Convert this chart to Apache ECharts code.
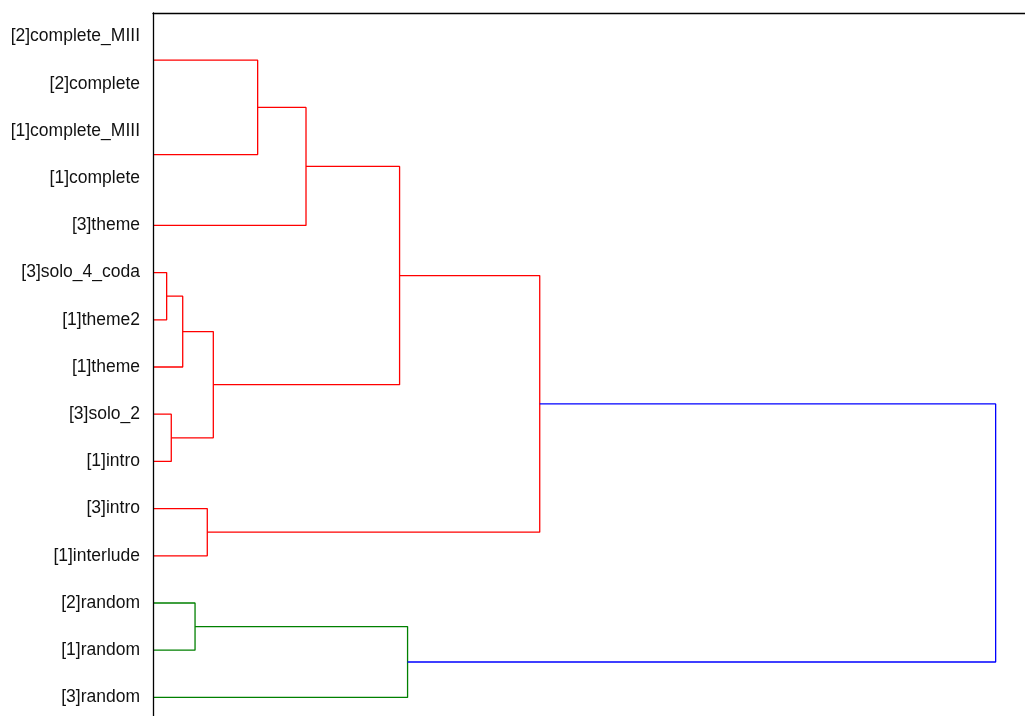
<!DOCTYPE html>
<html>
<head>
<meta charset="utf-8">
<title>dendrogram</title>
<script src="https://cdn.jsdelivr.net/npm/echarts@6/dist/echarts.min.js"></script>
<style>
  html, body { margin: 0; padding: 0; background: #fff; }
  #main { width: 1025px; height: 716px; }
</style>
</head>
<body>
<div id="main"></div>
<script>
// leaves, top to bottom
const leaves = [
  '[2]complete_MIII', '[2]complete', '[1]complete_MIII', '[1]complete', '[3]theme',
  '[3]solo_4_coda', '[1]theme2', '[1]theme', '[3]solo_2', '[1]intro',
  '[3]intro', '[1]interlude', '[2]random', '[1]random', '[3]random'
]

// linkage: [childA, childB, height], new clusters get index 15, 16, ...
const merges = [
  [0, 1, 0],
  [2, 3, 0],
  [5, 6, 0.0154],
  [8, 9, 0.0206],
  [17, 7, 0.0335],
  [12, 13, 0.0474],
  [10, 11, 0.0612],
  [19, 18, 0.068],
  [15, 16, 0.118],
  [23, 4, 0.1725],
  [24, 22, 0.278],
  [20, 14, 0.287],
  [25, 21, 0.436],
  [27, 26, 0.950]
]

const colorThreshold = 0.665
const clusterColors = ['#ff0000', '#008000']
const aboveColor = '#0000ff'

const n = leaves.length
// position and height of each node
let pos = leaves.map((l, i) => i)
let height = leaves.map(() => 0)
merges.forEach(m => {
  pos.push((pos[m[0]] + pos[m[1]]) / 2)
  height.push(m[2])
})

// colour: every link below threshold takes the colour of its cluster
let linkColor = []
let clusterIdx = 0
function paint (node, color) {
  if (node < n) return
  const m = merges[node - n]
  let c = color
  if (!c && m[2] < colorThreshold) {
    c = clusterColors[clusterIdx % clusterColors.length]
    clusterIdx++
  }
  linkColor[node - n] = c || aboveColor
  // top child first so colours go top to bottom
  const kids = pos[m[0]] <= pos[m[1]] ? [m[0], m[1]] : [m[1], m[0]]
  kids.forEach(k => paint(k, c))
}
paint(n + merges.length - 1, null)

let series = []
merges.forEach((m, i) => {
  const a = m[0], b = m[1], h = m[2]
  // zero height links lie on the axis line, nothing to see
  if (h === 0) return
  series.push({
    type: 'line',
    xAxisIndex: 0,
    yAxisIndex: 1,
    symbol: 'none',
    silent: true,
    animation: false,
    lineStyle: { color: linkColor[i], width: 1.3 },
    data: [
      [height[a], pos[a]],
      [h, pos[a]],
      [h, pos[b]],
      [height[b], pos[b]]
    ]
  })
})

let myChart = echarts.init(document.getElementById('main'))
let option = {
  backgroundColor: '#fff',
  grid: {
    left: 153,
    top: 13,
    width: 887,
    height: 708,
    outerBoundsMode: 'none'
  },
  xAxis: {
    type: 'value',
    position: 'top',
    min: 0,
    max: 1,
    z: 10,
    axisLine: { show: true, onZero: false, lineStyle: { color: '#000', width: 1.3 } },
    axisTick: { show: false },
    axisLabel: { show: false },
    splitLine: { show: false }
  },
  yAxis: [
    {
      type: 'category',
      data: leaves,
      inverse: true,
      z: 10,
      axisLine: { show: true, onZero: false, lineStyle: { color: '#000', width: 1.3 } },
      axisTick: { show: false },
      axisLabel: {
        color: '#111',
        fontSize: 17.5,
        fontFamily: 'Liberation Sans, Arial, sans-serif',
        margin: 13
      },
      splitLine: { show: false }
    },
    {
      type: 'value',
      min: -0.5,
      max: n - 0.5,
      inverse: true,
      show: false
    }
  ],
  series: series
}
myChart.setOption(option)
</script>
</body>
</html>
